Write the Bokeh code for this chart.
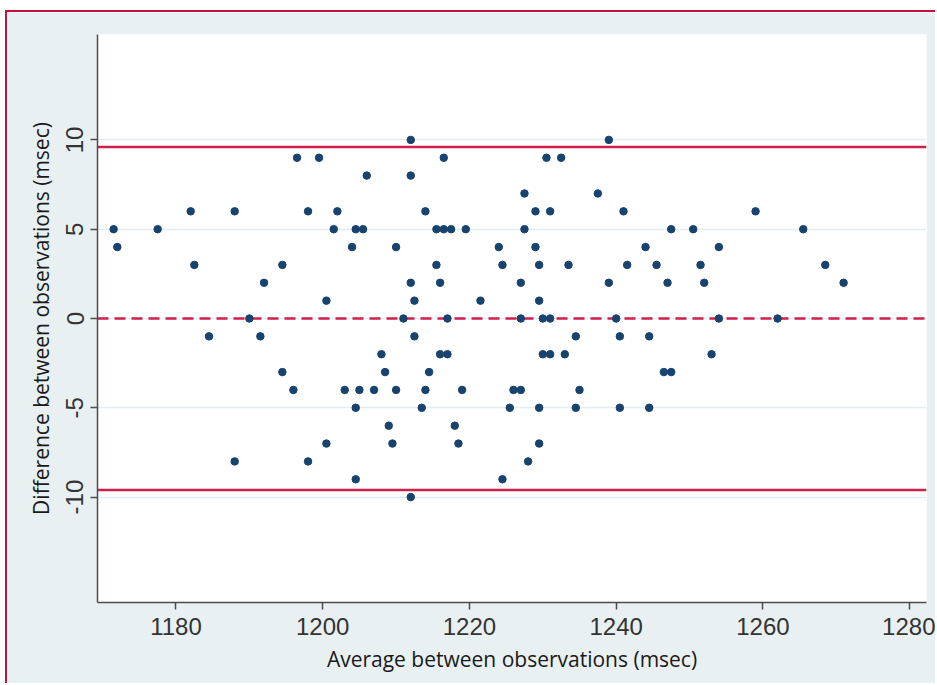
from bokeh.plotting import figure
from bokeh.models import Span, FixedTicker
from bokeh.embed import file_html
from bokeh.resources import INLINE

# ---- data ----
diff_levels = [10, 9, 8, 7, 6, 5, 4, 3, 2, 1, 0, -1, -2, -3, -4, -5, -6, -7, -8, -9, -10]
avg_by_diff = {
    10: [1212, 1239],
    9: [1196.5, 1199.5, 1216.5, 1230.5, 1232.5],
    8: [1206, 1212],
    7: [1227.5, 1237.5],
    6: [1182, 1188, 1198, 1202, 1214, 1229, 1231, 1241, 1259],
    5: [1171.5, 1177.5, 1201.5, 1204.5, 1205.5, 1215.5, 1216.5, 1217.5, 1219.5, 1227.5, 1247.5, 1250.5, 1265.5],
    4: [1172, 1204, 1210, 1224, 1229, 1244, 1254],
    3: [1182.5, 1194.5, 1215.5, 1224.5, 1229.5, 1233.5, 1241.5, 1245.5, 1251.5, 1268.5],
    2: [1192, 1212, 1216, 1227, 1239, 1247, 1252, 1271],
    1: [1200.5, 1212.5, 1221.5, 1229.5],
    0: [1190, 1211, 1217, 1227, 1230, 1231, 1240, 1254, 1262],
    -1: [1184.5, 1191.5, 1212.5, 1234.5, 1240.5, 1244.5],
    -2: [1208, 1216, 1217, 1230, 1231, 1233, 1253],
    -3: [1194.5, 1208.5, 1214.5, 1246.5, 1247.5],
    -4: [1196, 1203, 1205, 1207, 1210, 1214, 1219, 1226, 1227, 1235],
    -5: [1204.5, 1213.5, 1225.5, 1229.5, 1234.5, 1240.5, 1244.5],
    -6: [1209, 1218],
    -7: [1200.5, 1209.5, 1218.5, 1229.5],
    -8: [1188, 1198, 1228],
    -9: [1204.5, 1224.5],
    -10: [1212],
}
avg_msec = [a for d in diff_levels for a in avg_by_diff[d]]
diff_msec = [d for d in diff_levels for a in avg_by_diff[d]]

mean_diff = 0.0
upper_loa = 9.6
lower_loa = -9.6

x_ticks = [1180, 1200, 1220, 1240, 1260, 1280]
y_ticks = [-10, -5, 0, 5, 10]
y_tick_labels = {-10: "-10", -5: "-5", 0: "0", 5: "5", 10: "10"}

RED = "#cf1f4b"
NAVY = "#18436f"
BG = "#e9f0f2"

p = figure(width=930, height=673,
           x_range=(1169.3, 1282.3), y_range=(-15.9, 15.9),
           output_backend="svg", toolbar_location=None,
           background_fill_color="white", border_fill_color=BG,
           min_border_left=90, min_border_top=22, min_border_right=11, min_border_bottom=83,
           outline_line_color=None)
p.styles = {"margin-left": "5px", "margin-top": "10px",
            "border-left": "2px solid #c8103e", "border-top": "2px solid #c8103e"}

p.xgrid.visible = False
p.ygrid.ticker = FixedTicker(ticks=y_ticks)
p.ygrid.grid_line_color = "#e4edf1"
p.ygrid.grid_line_width = 1.5

for ax in (p.xaxis[0], p.yaxis[0]):
    ax.axis_line_color = "#4d4d4d"
    ax.axis_line_width = 1.5
    ax.major_tick_line_color = "#4d4d4d"
    ax.major_tick_line_width = 1.5
    ax.major_tick_out = 7
    ax.major_tick_in = 0
    ax.minor_tick_line_color = None
    ax.major_label_text_font = "Liberation Sans"
    ax.major_label_text_font_size = "24px"
    ax.major_label_text_color = "#333333"
    ax.axis_label_text_font = "Open Sans"
    ax.axis_label_text_font_size = "21px"
    ax.axis_label_text_font_style = "normal"
    ax.axis_label_text_color = "#1a1a1a"

p.xaxis.ticker = FixedTicker(ticks=x_ticks)
p.yaxis.ticker = FixedTicker(ticks=y_ticks)
p.yaxis.major_label_overrides = y_tick_labels
p.yaxis.major_label_orientation = "vertical"
p.xaxis.major_label_standoff = 8
p.yaxis.major_label_standoff = 7
p.xaxis.axis_label_standoff = 7
p.yaxis.axis_label_standoff = 9
p.xaxis.axis_label = "Average between observations (msec)"
p.yaxis.axis_label = "Difference between observations (msec)"

for loc, dash in ((upper_loa, "solid"), (lower_loa, "solid"), (mean_diff, "11 6")):
    p.add_layout(Span(location=loc, dimension="width", line_color=RED,
                      line_width=2.5, line_dash=dash, level="underlay"))

p.scatter(avg_msec, diff_msec, size=7.5, fill_color=NAVY, line_color=NAVY)

open("out.html", "w").write(file_html(p, INLINE))
